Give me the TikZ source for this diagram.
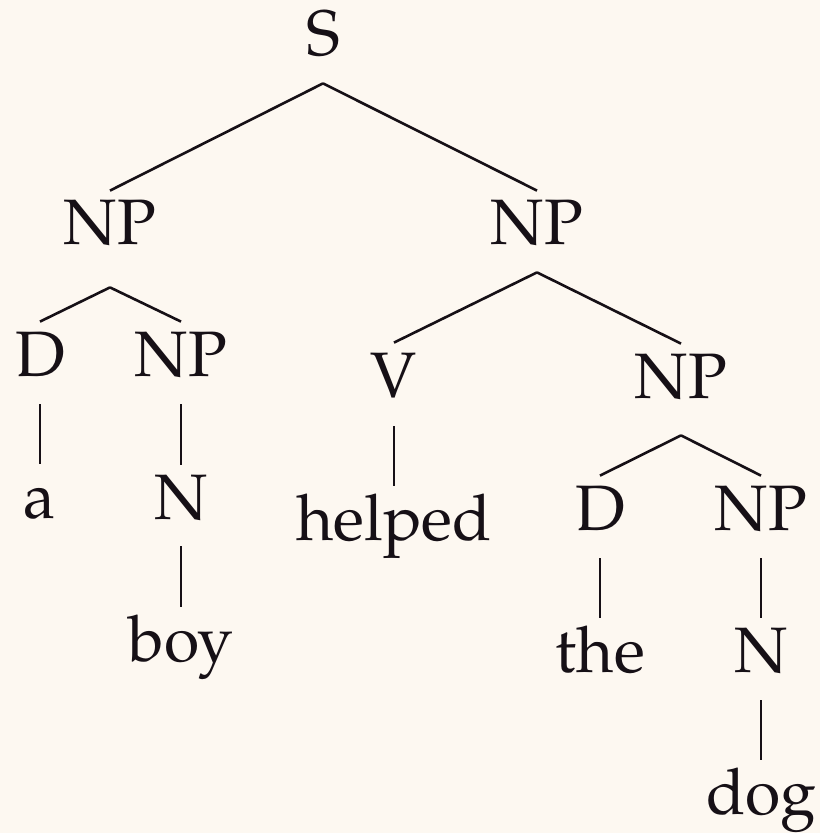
\documentclass[tikz,border=0pt]{standalone}
\usepackage{fontspec}
\setmainfont{texgyrepagella-regular.otf}
\definecolor{bgcream}{RGB}{253,248,241}
\definecolor{ink}{RGB}{22,16,22}
\begin{document}
\begin{tikzpicture}[x=0.5pt,y=-0.5pt,
  lab/.style={anchor=base,inner xsep=0pt,inner ysep=4.5pt,text height=22.5pt,text depth=0pt,
    font=\fontsize{32.1}{36}\selectfont,text=ink},
  edge/.style={draw=ink,line width=1.3pt}]
\fill[bgcream] (0,0) rectangle (820,833);
\useasboundingbox (0,0) rectangle (820,833);
\node[lab] (s) at (323,56) {S};
\node[lab] (np1) at (110,245) {NP};
\node[lab] (np2) at (537,245) {NP};
\node[lab] (d1) at (40,376) {D};
\node[lab] (np3) at (181,376) {NP};
\node[lab] (a) at (40,518) {a};
\node[lab] (n1) at (181,519) {N};
\node[lab] (boy) at (181,661) {boy};
\node[lab] (v) at (394,397) {V};
\node[lab] (np4) at (681,398) {NP};
\node[lab] (helped) at (394,540) {helped};
\node[lab] (d2) at (600,530) {D};
\node[lab] (np5) at (761,530) {NP};
\node[lab] (the) at (600,672) {the};
\node[lab] (n2) at (761,672) {N};
\node[lab] (dog) at (761,814) {dog};
\draw[edge] ([yshift=-9pt]s.south) -- (np1.north);
\draw[edge] ([yshift=-9pt]s.south) -- (np2.north);
\draw[edge] ([yshift=-16.5pt]np1.south) -- (d1.north);
\draw[edge] ([yshift=-16.5pt]np1.south) -- (np3.north);
\draw[edge] ([yshift=-9.5pt]d1.south) -- (a.north);
\draw[edge] ([yshift=-9.5pt]np3.south) -- (n1.north);
\draw[edge] ([yshift=-9pt]n1.south) -- (boy.north);
\draw[edge] ([yshift=-9pt]np2.south) -- (v.north);
\draw[edge] ([yshift=-9pt]np2.south) -- (np4.north);
\draw[edge] ([yshift=-10pt]v.south) -- (helped.north);
\draw[edge] ([yshift=-14pt]np4.south) -- (d2.north);
\draw[edge] ([yshift=-14pt]np4.south) -- (np5.north);
\draw[edge] ([yshift=-9.5pt]d2.south) -- (the.north);
\draw[edge] ([yshift=-9.5pt]np5.south) -- (n2.north);
\draw[edge] ([yshift=-9.5pt]n2.south) -- (dog.north);
\end{tikzpicture}
\end{document}
